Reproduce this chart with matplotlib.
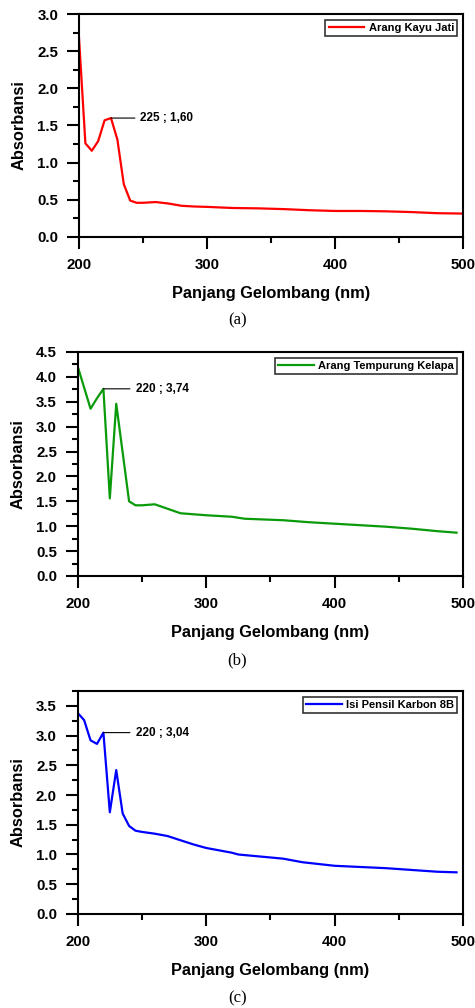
import numpy as np
import matplotlib.pyplot as plt
from matplotlib.ticker import MultipleLocator

plt.rcParams['font.family'] = ['Liberation Sans', 'DejaVu Sans']
plt.rcParams['font.weight'] = 'bold'

# panel (a) - Arang Kayu Jati
wl_a = [200, 205, 210, 215, 220, 225, 230, 235, 240, 245, 250, 260, 270, 280, 290,
        300, 320, 340, 360, 380, 400, 420, 440, 460, 480, 500]
abs_a = [2.68, 1.26, 1.16, 1.29, 1.57, 1.60, 1.31, 0.71, 0.49, 0.46, 0.46, 0.47, 0.45,
         0.42, 0.41, 0.405, 0.39, 0.385, 0.375, 0.36, 0.35, 0.35, 0.345, 0.335, 0.32, 0.315]

# panel (b) - Arang Tempurung Kelapa
wl_b = [200, 210, 215, 220, 225, 230, 240, 245, 250, 260, 270, 280, 290, 300, 320,
        330, 340, 360, 380, 400, 420, 440, 460, 480, 495]
abs_b = [4.21, 3.36, 3.57, 3.76, 1.56, 3.46, 1.50, 1.42, 1.42, 1.44, 1.35, 1.26, 1.24,
         1.22, 1.19, 1.15, 1.14, 1.12, 1.08, 1.05, 1.02, 0.99, 0.95, 0.90, 0.87]

# panel (c) - Isi Pensil Karbon 8B
wl_c = [200, 205, 210, 215, 220, 225, 230, 235, 240, 245, 250, 260, 270, 280, 290,
        300, 310, 320, 325, 340, 360, 375, 400, 420, 440, 460, 480, 495]
abs_c = [3.38, 3.26, 2.92, 2.86, 3.05, 1.71, 2.42, 1.69, 1.48, 1.40, 1.38, 1.35, 1.31,
         1.24, 1.17, 1.11, 1.07, 1.03, 1.00, 0.97, 0.93, 0.87, 0.81, 0.79, 0.77, 0.74,
         0.71, 0.70]

panels = [
    dict(x=wl_a, y=abs_a, color='#ff0000', label='Arang Kayu Jati', ylim=3.0,
         peak=(225, 1.60), note='225 ; 1,60', tx=248, cap='(a)',
         rect=[0.1663, 0.7649, 0.8084, 0.2212], cap_y=320),
    dict(x=wl_b, y=abs_b, color='#0a9a0a', label='Arang Tempurung Kelapa', ylim=4.5,
         peak=(220, 3.76), note='220 ; 3,74', tx=245, cap='(b)',
         rect=[0.1636, 0.4286, 0.8111, 0.2222], cap_y=660),
    dict(x=wl_c, y=abs_c, color='#0000ff', label='Isi Pensil Karbon 8B', ylim=3.75,
         peak=(220, 3.05), note='220 ; 3,04', tx=245, cap='(c)',
         rect=[0.1636, 0.0933, 0.8111, 0.2212], cap_y=998),
]

fig = plt.figure(figsize=(4.75, 10.08), dpi=100)

for p in panels:
    ax = fig.add_axes(p['rect'])
    ax.plot(p['x'], p['y'], color=p['color'], lw=1.6, label=p['label'])
    ax.set_xlim(200, 500)
    ax.set_ylim(0, p['ylim'])
    ax.xaxis.set_major_locator(MultipleLocator(100))
    ax.xaxis.set_minor_locator(MultipleLocator(50))
    ax.yaxis.set_major_locator(MultipleLocator(0.5))
    ax.yaxis.set_minor_locator(MultipleLocator(0.25))
    ax.tick_params(which='major', direction='out', length=8.5, width=1.5,
                   labelsize=10.8, pad=6.5)
    ax.tick_params(which='minor', direction='out', length=4.3, width=1.5)
    ax.tick_params(top=False, right=False, which='both')
    for s in ax.spines.values():
        s.set_linewidth(1.5)
    ax.set_xlabel('Panjang Gelombang (nm)', fontsize=11.8, fontweight='bold', labelpad=10.5)
    ax.set_ylabel('Absorbansi', fontsize=11.8, fontweight='bold', labelpad=7.5)
    ax.annotate(p['note'], xy=p['peak'], xytext=(p['tx'], p['peak'][1]),
                fontsize=8.5, fontweight='bold', ha='left', va='center',
                arrowprops=dict(arrowstyle='-', color='black', lw=0.8,
                                shrinkA=2, shrinkB=0))
    leg = ax.legend(loc='upper right', fontsize=8, frameon=True, fancybox=False,
                    handlelength=3.2, borderpad=0.3, borderaxespad=0.5,
                    handletextpad=0.4)
    leg.get_frame().set_edgecolor('black')
    leg.get_frame().set_linewidth(1.2)
    for t in leg.get_texts():
        t.set_fontweight('bold')
    fig.text(0.5, 1 - p['cap_y'] / 1008, p['cap'], ha='center', va='center',
             fontsize=12, fontweight='normal',
             family=['Liberation Serif', 'DejaVu Serif'])

fig.savefig('out.png', dpi=100)
